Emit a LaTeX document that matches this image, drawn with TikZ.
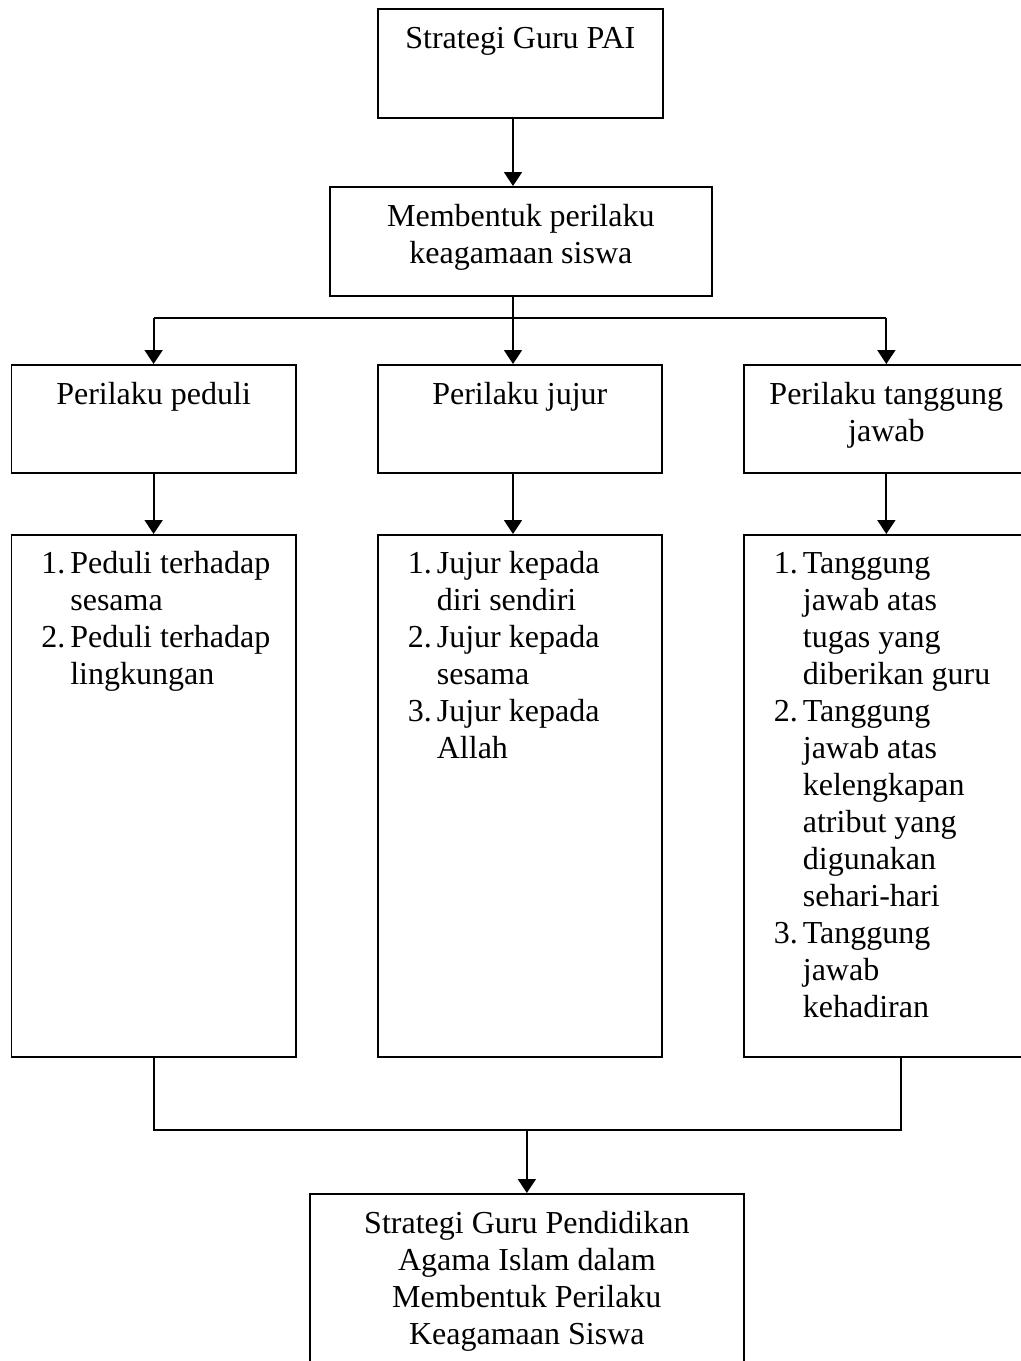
\documentclass[tikz,border=0pt]{standalone}
\usepackage{fontspec}
\setmainfont{Liberation Serif}
\usetikzlibrary{arrows.meta}

\newcommand{\kotak}[3]{\parbox[c][#1][t]{#2}{\centering\rule{0pt}{20pt}#3}}
\newcommand{\daftar}[3]{\parbox[c][#1][t]{#2}{\raggedright\leftskip=15pt\rule{0pt}{19.5pt}#3}}
\newcommand{\nomor}[1]{\makebox[14.5pt][l]{#1}}
\newcommand{\lanjut}{\hspace*{14.5pt}}

\begin{document}
\begin{tikzpicture}[x=0.5pt,y=-0.5pt,
box/.style={draw,rectangle,inner sep=0pt,anchor=north west,line width=0.85pt,
    font=\fontsize{16}{18.5}\selectfont},
arr/.style={line width=0.9pt,-{Triangle[length=7pt,width=9pt]}},
garis/.style={line width=0.9pt}]
\useasboundingbox (0,0) rectangle (1021,1361);

% tingkat atas
\node (strat) [box] at (377,8) {\kotak{54.5pt}{142.5pt}{Strategi Guru PAI}};
\node (bentuk) [box] at (329,186) {\kotak{54.5pt}{191pt}{Membentuk perilaku\\keagamaan siswa}};

% tiga perilaku
\node (peduli) [box] at (10.5,364) {\kotak{54pt}{142.25pt}{Perilaku peduli}};
\node (jujur) [box] at (377,364) {\kotak{54pt}{142pt}{Perilaku jujur}};
\node (tanggung) [box] at (743,364) {\kotak{54pt}{142.5pt}{Perilaku tanggung\\jawab}};

% rincian
\node (lpeduli) [box] at (10.5,534) {\daftar{261pt}{142.25pt}{%
    \nomor{1.}Peduli terhadap\\ \lanjut sesama\\
    \nomor{2.}Peduli terhadap\\ \lanjut lingkungan}};
\node (ljujur) [box] at (377,534) {\daftar{261pt}{142pt}{%
    \nomor{1.}Jujur kepada\\ \lanjut diri sendiri\\
    \nomor{2.}Jujur kepada\\ \lanjut sesama\\
    \nomor{3.}Jujur kepada\\ \lanjut Allah}};
\node (ltanggung) [box] at (743,534) {\daftar{261pt}{142.5pt}{%
    \nomor{1.}Tanggung\\ \lanjut jawab atas\\ \lanjut tugas yang\\ \lanjut diberikan guru\\
    \nomor{2.}Tanggung\\ \lanjut jawab atas\\ \lanjut kelengkapan\\ \lanjut atribut yang\\
    \lanjut digunakan\\ \lanjut sehari-hari\\
    \nomor{3.}Tanggung\\ \lanjut jawab\\ \lanjut kehadiran}};

% hasil
\node (hasil) [box] at (309,1193) {\kotak{100pt}{217pt}{Strategi Guru Pendidikan\\Agama Islam dalam\\Membentuk Perilaku\\Keagamaan Siswa}};

\coordinate (fork) at (513,318);
\coordinate (join) at (901,1130);

\draw[arr] (strat.south -| fork) -- (bentuk.north -| fork);
\draw[garis] (bentuk.south -| fork) -- (fork);
\draw[garis] (fork -| peduli) -- (fork -| tanggung);
\draw[arr] (fork -| peduli) -- (peduli.north);
\draw[arr] (fork) -- (jujur.north -| fork);
\draw[arr] (fork -| tanggung) -- (tanggung.north);

\draw[arr] (peduli) -- (lpeduli);
\draw[arr] (jujur.south -| fork) -- (ljujur.north -| fork);
\draw[arr] (tanggung) -- (ltanggung);

\draw[garis] (lpeduli.south) |- (join) -- (ltanggung.south -| join);
\draw[arr] (join -| hasil) -- (hasil.north);
\end{tikzpicture}
\end{document}
